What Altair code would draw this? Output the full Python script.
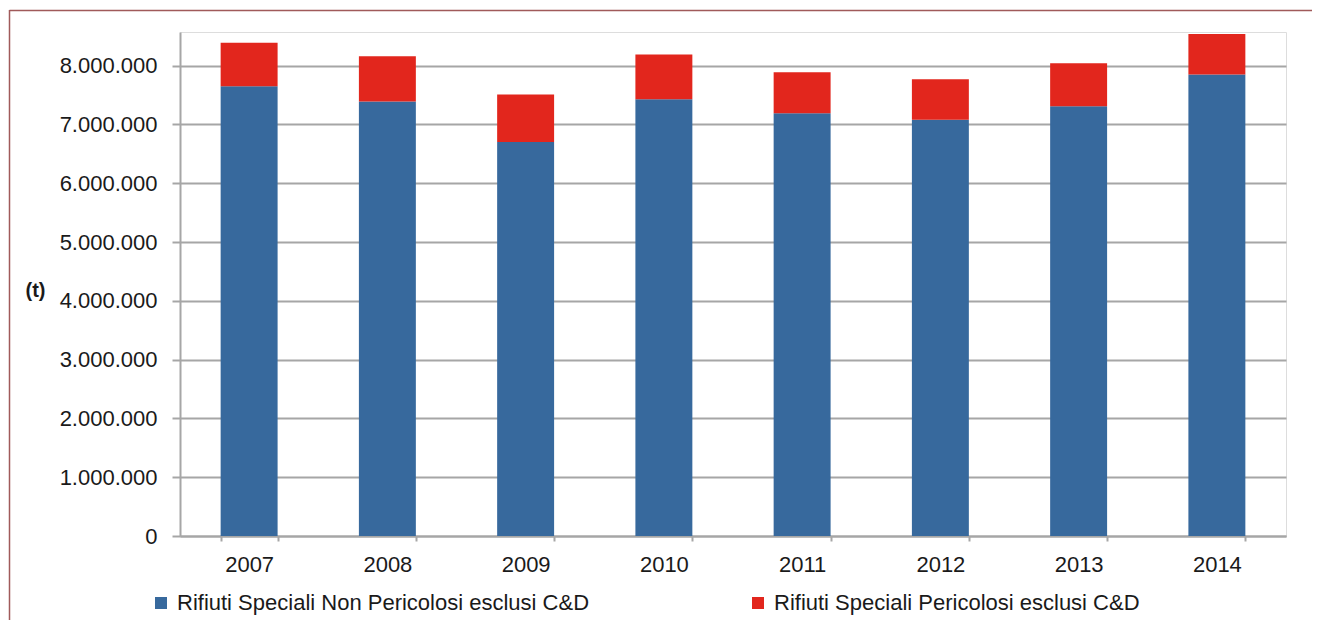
import altair as alt
import pandas as pd

years = ["2007", "2008", "2009", "2010", "2011", "2012", "2013", "2014"]
non_pericolosi = [7650000, 7390000, 6700000, 7430000, 7190000, 7080000, 7310000, 7850000]
pericolosi = [740000, 770000, 810000, 760000, 700000, 690000, 730000, 690000]
series = ["Rifiuti Speciali Non Pericolosi esclusi C&D", "Rifiuti Speciali Pericolosi esclusi C&D"]
colors = ["#37699d", "#e2261d"]
y_ticks = [0, 1000000, 2000000, 3000000, 4000000, 5000000, 6000000, 7000000, 8000000]

rows = []
for i, y in enumerate(years):
    rows.append({"anno": y, "serie": series[0], "valore": non_pericolosi[i], "ord": 0})
    rows.append({"anno": y, "serie": series[1], "valore": pericolosi[i], "ord": 1})
df = pd.DataFrame(rows)

FONT = "Liberation Sans"
GRID = "#a6a6a6"
TXT = "#1a1a1a"

bars = alt.Chart(df).mark_bar().encode(
    x=alt.X("anno:N", sort=years,
            scale=alt.Scale(paddingInner=0.588, paddingOuter=0.294),
            axis=alt.Axis(title=None, labelAngle=0, tickBand="extent", tickSize=5,
                          tickColor=GRID, tickWidth=2, domainColor=GRID, domainWidth=2,
                          labelFont=FONT, labelFontSize=22, labelColor=TXT,
                          labelPadding=13, grid=False)),
    y=alt.Y("valore:Q", stack="zero",
            scale=alt.Scale(domain=[0, 8573000], nice=False, zero=True),
            axis=alt.Axis(values=y_ticks, format=",.0f", tickSize=8, tickColor=GRID, tickWidth=2,
                          domainColor=GRID, domainWidth=2, gridColor=GRID, gridWidth=2,
                          labelFont=FONT, labelFontSize=22, labelColor=TXT, labelPadding=15,
                          title="(t)", titleAngle=0, titleX=-145, titleY=258, titleAlign="center",
                          titleBaseline="middle", titleFont=FONT, titleFontSize=20,
                          titleFontWeight="bold", titleColor=TXT)),
    color=alt.Color("serie:N", sort=series,
                    scale=alt.Scale(domain=series, range=colors),
                    legend=alt.Legend(title=None, orient="none", legendX=-30, legendY=560,
                                      direction="horizontal", columns=2, columnPadding=157,
                                      symbolType="square", symbolSize=144, symbolStrokeWidth=0,
                                      labelFont=FONT, labelFontSize=22, labelColor=TXT,
                                      labelOffset=5, padding=0, labelLimit=600)),
    order=alt.Order("ord:Q"),
)

frame_df = pd.DataFrame({"k": [0]})
top_line = alt.Chart(frame_df).mark_rule(color="#a05a5a", strokeWidth=1.5).encode(
    x=alt.value(-170.5), x2=alt.value(1140), y=alt.value(-21.5))
left_line = alt.Chart(frame_df).mark_rule(color="#a05a5a", strokeWidth=1.5).encode(
    x=alt.value(-170.5), y=alt.value(-22), y2=alt.value(590))

chart = alt.layer(bars, top_line, left_line).properties(
    width=1106, height=504,
    autosize=alt.AutoSizeParams(type="none"),
    padding={"left": 172, "top": 24, "right": 26, "bottom": 84},
).configure_view(stroke=None).configure(
    locale={"number": {"decimal": ",", "thousands": ".", "grouping": [3], "currency": ["€", ""]}}
)

chart.save("out.html", embed_options={"renderer": "svg", "actions": False})
